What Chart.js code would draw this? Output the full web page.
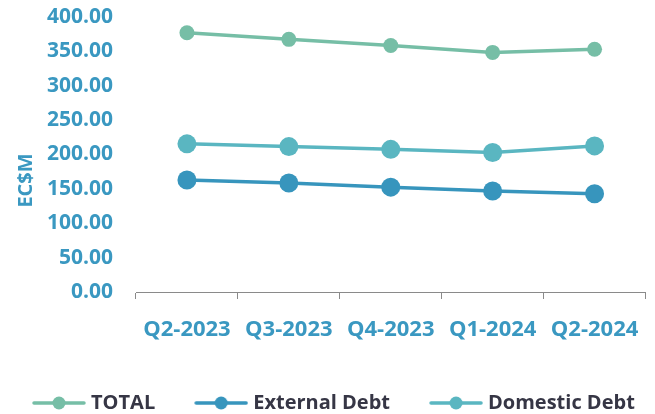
<!DOCTYPE html>
<html>
<head>
<meta charset="utf-8">
<script src="https://cdn.jsdelivr.net/npm/chart.js@4/dist/chart.umd.min.js"></script>
<style>
  html, body { margin: 0; padding: 0; background: #ffffff; }
  #wrap { width: 655px; height: 414px; position: relative; }
</style>
</head>
<body>
<div id="wrap"><canvas id="c" width="655" height="414"></canvas></div>
<script>
const categories = ['Q2-2023', 'Q3-2023', 'Q4-2023', 'Q1-2024', 'Q2-2024'];
const totalValues = [377, 367.5, 358.5, 348.5, 353];
const externalValues = [163, 158.5, 152.5, 147, 143];
const domesticValues = [215.5, 211.5, 207.5, 203, 212.5];
const seriesNames = ['TOTAL', 'External Debt', 'Domestic Debt'];
const yTicks = [0, 50, 100, 150, 200, 250, 300, 350, 400];
const yTitle = 'EC$M';

const colTotal = '#76BEA6';
const colExternal = '#3795BD';
const colDomestic = '#5AB6C1';
const tickColor = '#3A98C1';
const legendColor = '#363645';
const FONT = "'Open Sans', 'DejaVu Sans', sans-serif";

const PAD_LEFT = -7;
const BLANK = 44;                 // blank space left of each legend marker
const BOXW = BLANK + 44;          // legend box width

function legendMarker(color, r) {
  const cv = document.createElement('canvas');
  cv.width = BOXW + 10; cv.height = 16;
  const g = cv.getContext('2d');
  g.strokeStyle = color; g.lineWidth = 3.5; g.lineCap = 'round';
  g.beginPath(); g.moveTo(BLANK + 2, 8); g.lineTo(BLANK + 52, 8); g.stroke();
  g.fillStyle = color;
  g.beginPath(); g.arc(BLANK + 27, 8, r, 0, Math.PI * 2); g.fill();
  return cv;
}

const markers = [legendMarker(colTotal, 6.5), legendMarker(colExternal, 6.5), legendMarker(colDomestic, 6.5)];

new Chart(document.getElementById('c'), {
  type: 'line',
  data: {
    labels: categories,
    datasets: [
      { label: seriesNames[0], data: totalValues, borderColor: colTotal, backgroundColor: colTotal,
        borderWidth: 3.5, pointRadius: 7.5, pointHoverRadius: 7.5, pointBorderWidth: 0, tension: 0 },
      { label: seriesNames[1], data: externalValues, borderColor: colExternal, backgroundColor: colExternal,
        borderWidth: 3.5, pointRadius: 9.5, pointHoverRadius: 9.5, pointBorderWidth: 0, tension: 0 },
      { label: seriesNames[2], data: domesticValues, borderColor: colDomestic, backgroundColor: colDomestic,
        borderWidth: 3.5, pointRadius: 9.5, pointHoverRadius: 9.5, pointBorderWidth: 0, tension: 0 }
    ]
  },
  options: {
    responsive: false,
    animation: false,
    layout: { padding: { top: 17, right: 0.5, left: PAD_LEFT, bottom: -9 } },
    plugins: {
      tooltip: { enabled: false },
      legend: {
        position: 'bottom',
        align: 'start',
        labels: {
          usePointStyle: true,
          pointStyleWidth: BOXW,
          padding: 0,
          color: legendColor,
          font: { family: FONT, size: 20, weight: 'bold' },
          generateLabels: (chart) => chart.data.datasets.map((ds, i) => ({
            text: ds.label,
            fillStyle: ds.borderColor,
            strokeStyle: ds.borderColor,
            fontColor: legendColor,
            pointStyle: markers[i],
            lineWidth: 0,
            hidden: false,
            datasetIndex: i
          }))
        }
      }
    },
    scales: {
      x: {
        offset: true,
        grid: { display: true, offset: true, drawOnChartArea: false, drawTicks: true, tickLength: 7, color: '#8a8a8a', lineWidth: 1 },
        border: { display: true, color: '#8a8a8a', width: 1 },
        ticks: { color: tickColor, font: { family: FONT, size: 22, weight: 'bold', lineHeight: 2.3 }, padding: 5, maxRotation: 0, autoSkip: false },
        afterFit: (s) => { s.height = 101; }
      },
      y: {
        min: 0, max: 400,
        afterBuildTicks: (s) => { s.ticks = yTicks.map(v => ({ value: v })); },
        grid: { display: true, drawOnChartArea: false, drawTicks: true, tickLength: 19, color: 'rgba(0,0,0,0)' },
        border: { display: false },
        ticks: { color: tickColor, font: { family: FONT, size: 21, weight: 'bold' }, padding: 4, autoSkip: false,
                 callback: (v) => Number(v).toFixed(2) },
        title: { display: true, text: yTitle + '          ', color: tickColor, font: { family: FONT, size: 20, weight: 'bold' }, padding: { top: 21, bottom: 0 } },
        afterFit: (s) => { s.width = 136 - PAD_LEFT; }
      }
    }
  }
});
</script>
</body>
</html>
